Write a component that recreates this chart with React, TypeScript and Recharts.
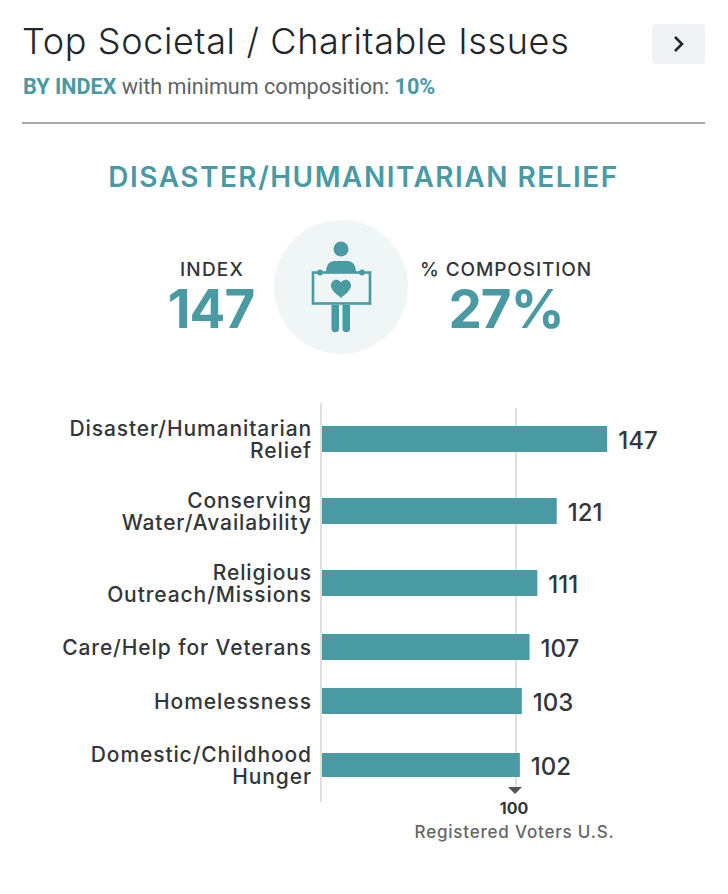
import React from 'react';
import { BarChart, Bar, XAxis, YAxis, ReferenceLine, LabelList } from 'recharts';

const categories = [
  'Disaster/Humanitarian\nRelief',
  'Conserving\nWater/Availability',
  'Religious\nOutreach/Missions',
  'Care/Help for Veterans',
  'Homelessness',
  'Domestic/Childhood\nHunger',
];
const indexValues = [147, 121, 111, 107, 103, 102];
const benchmarkValue = 100;
const benchmarkName = 'Registered Voters U.S.';

const TEAL = '#4a9aa3';
const DARK = '#333639';
const FONT = 'Inter, sans-serif';

// rows are not the same height: two-line labels take more room
const rowHeights = [72, 72, 72, 56, 52, 75];
const FOOTER = 43;

const CategoryTick = ({ x, y, payload }: any) => {
  const lines = String(payload.value).split('\n');
  return (
    <text x={x - 1} y={y} textAnchor="end" fontFamily={FONT} fontSize={21} fontWeight={500} fill={DARK} letterSpacing={0.9}>
      {lines.map((line, i) => (
        <tspan key={line} x={x - 1} dy={i === 0 ? (lines.length === 1 ? 8 : -3) : 22}>
          {line}
        </tspan>
      ))}
    </text>
  );
};

const BenchmarkLine = ({ x1, y1, y2, first, last }: any) => {
  const top = Math.min(y1, y2) + (first ? 5 : 0);
  const bottom = Math.max(y1, y2) - (last ? 15 : 0);
  return (
    <g>
      <line x1={x1} x2={x1} y1={top} y2={bottom} stroke="#d6d6d6" strokeWidth={1.5} />
      {last && (
        <g fontFamily={FONT} textAnchor="middle">
          <path d={`M${x1 - 8} ${bottom}h14l-7 7z`} fill="#555" />
          <text x={x1 - 2} y={bottom + 27} fontSize={16} fontWeight={700} fill={DARK}>
            {benchmarkValue}
          </text>
          <text x={x1 - 1.5} y={bottom + 51} fontSize={17} fontWeight={500} fill="#666" letterSpacing={0.8}>
            {benchmarkName}
          </text>
        </g>
      )}
    </g>
  );
};

const Row = ({ index }: { index: number }) => {
  const last = index === categories.length - 1;
  const data = [{ name: categories[index], value: indexValues[index] }];
  return (
    <BarChart
      width={728}
      height={rowHeights[index] + (last ? FOOTER : 0)}
      data={data}
      layout="vertical"
      barSize={last ? 24 : 26}
      margin={{ top: 0, right: 115, bottom: last ? FOOTER : 0, left: 0 }}
      style={{ display: 'block' }}
    >
      <XAxis type="number" hide domain={[-0.5, 150]} />
      <YAxis
        type="category"
        dataKey="name"
        width={321}
        tick={<CategoryTick />}
        tickLine={false}
        axisLine={{ stroke: '#d6d6d6', strokeWidth: 1.5 }}
      />
      <ReferenceLine
        x={benchmarkValue}
        zIndex={100}
        shape={(props: any) => <BenchmarkLine {...props} first={index === 0} last={last} />}
      />
      <Bar dataKey="value" fill={TEAL} isAnimationActive={false}>
        <LabelList
          dataKey="value"
          position="right"
          offset={11}
          dy={1}
          style={{ fontFamily: FONT, fontSize: 24, fontWeight: 500, fill: DARK }}
        />
      </Bar>
    </BarChart>
  );
};

const Centered = ({ x, y, size, weight, color, spacing, children }: any) => (
  <div
    style={{
      position: 'absolute',
      left: x - 350,
      top: y - size / 2 - 2,
      width: 700,
      height: size + 4,
      lineHeight: `${size + 4}px`,
      textAlign: 'center',
      fontSize: size,
      fontWeight: weight,
      letterSpacing: spacing,
      color,
      whiteSpace: 'nowrap',
    }}
  >
    {children}
  </div>
);

const PersonIcon = () => (
  <svg width={728} height={894} style={{ position: 'absolute', left: 0, top: 0 }}>
    <circle cx={341} cy={287} r={67} fill="#f0f6f6" />
    <g fill={TEAL}>
      <circle cx={341} cy={249} r={7.5} />
      <path d="M326 273c0-8 3-12 9-12h12c6 0 9 4 9 12z" />
      <circle cx={320} cy={272.5} r={3} />
      <circle cx={362} cy={272.5} r={3} />
      <rect x={313} y={272.5} width={57} height={31} fill="none" stroke={TEAL} strokeWidth={2.6} />
      <path d="M341 298c-3-3-10-7-10-12.500c0-6 7-8 10-3c3-5 10-3 10 3c0 5.500-7 9.500-10 12.500z" />
      <path d="M331.500 305h7.500v23.500a3.750 3.750 0 0 1-7.500 0z" />
      <path d="M342.500 305h7.500v23.500a3.750 3.750 0 0 1-7.500 0z" />
    </g>
  </svg>
);

export default function App() {
  return (
    <div style={{ position: 'absolute', left: 0, top: 0, width: 728, height: 894, background: '#fff', fontFamily: FONT, overflow: 'hidden' }}>
      <div style={{ position: 'absolute', left: 22, top: 18, fontSize: 36, fontWeight: 300, letterSpacing: 0.65, lineHeight: '46px', color: '#22262b', whiteSpace: 'nowrap' }}>
        Top Societal / Charitable Issues
      </div>
      <div style={{ position: 'absolute', left: 652, top: 24, width: 53, height: 40, borderRadius: 4, background: '#f0f3f3' }}>
        <svg width={53} height={40}>
          <path d="M23 13l7 7-7 7" fill="none" stroke="#22262b" strokeWidth={2.6} />
        </svg>
      </div>
      <div style={{ position: 'absolute', left: 23, top: 74, fontFamily: 'Roboto, sans-serif', fontSize: 21.6, lineHeight: '26px', color: '#5f6366', whiteSpace: 'nowrap' }}>
        <b style={{ color: TEAL }}>BY INDEX</b> with minimum composition: <b style={{ color: TEAL }}>10%</b>
      </div>
      <div style={{ position: 'absolute', left: 22, top: 122, width: 683, height: 2, background: '#a8a8a8' }} />

      <Centered x={363.5} y={177} size={28} weight={600} color={TEAL} spacing={1.5}>DISASTER/HUMANITARIAN RELIEF</Centered>
      <PersonIcon />
      <Centered x={212} y={269} size={19} weight={500} color={DARK} spacing={1.2}>INDEX</Centered>
      <Centered x={211} y={309} size={53} weight={700} color={TEAL} spacing={-1}>147</Centered>
      <Centered x={506} y={269} size={19} weight={500} color={DARK} spacing={0.9}>% COMPOSITION</Centered>
      <Centered x={506} y={309} size={53} weight={700} color={TEAL} spacing={-1}>27%</Centered>

      <div style={{ position: 'absolute', left: 0, top: 403, width: 728 }}>
        {categories.map((name, i) => (
          <Row key={name} index={i} />
        ))}
      </div>
    </div>
  );
}
